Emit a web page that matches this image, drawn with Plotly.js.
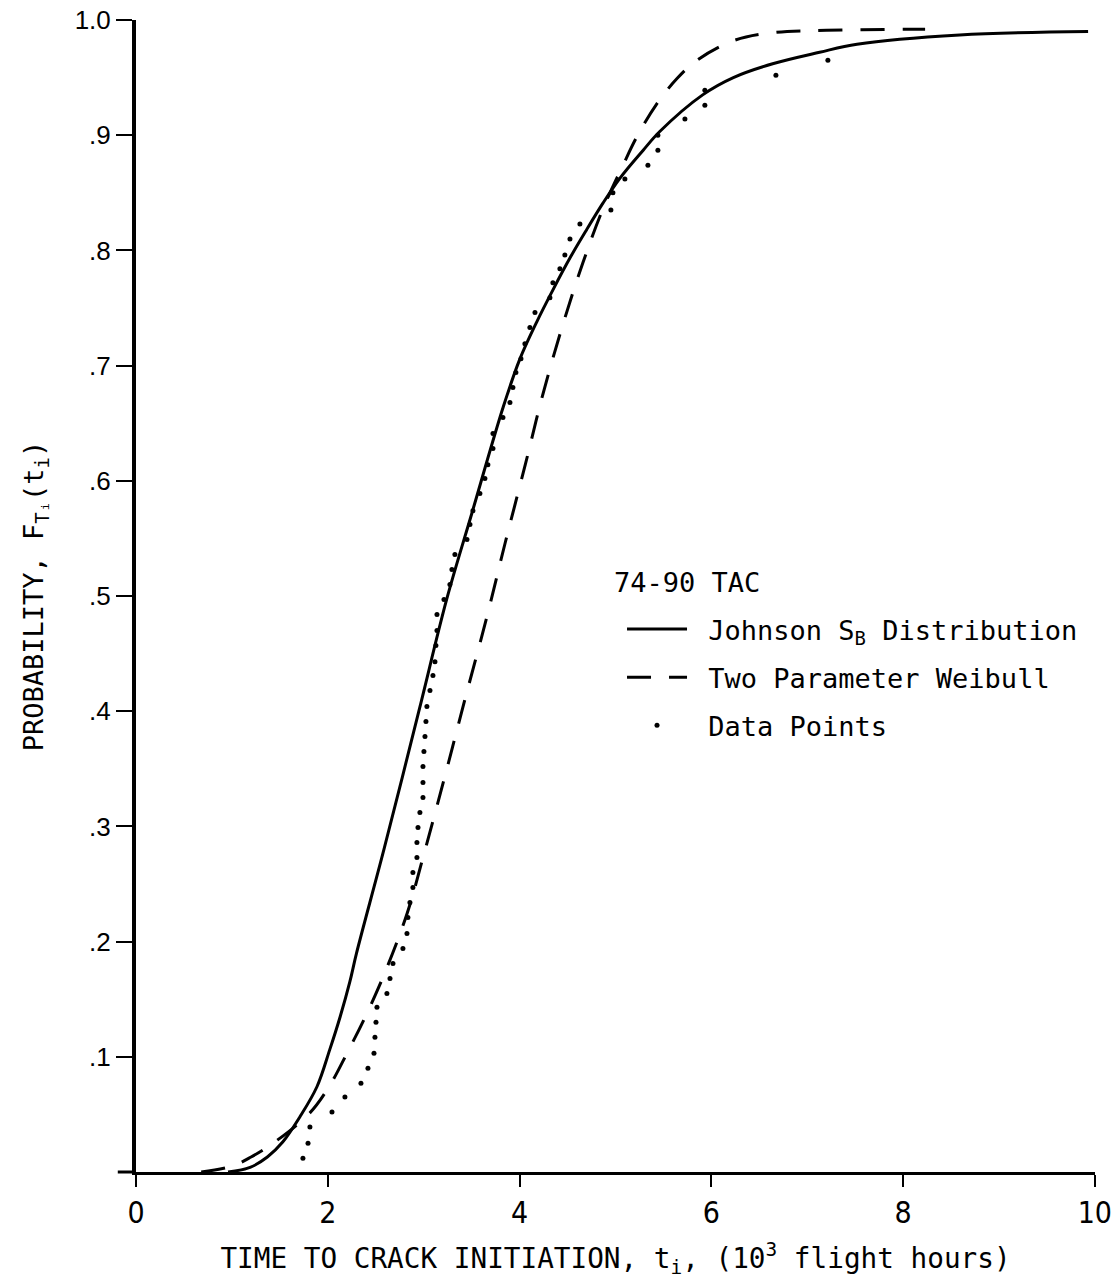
<!DOCTYPE html>
<html>
<head>
<meta charset="utf-8">
<script src="https://cdn.plot.ly/plotly-3.0.1.min.js"></script>
<style>html,body{margin:0;padding:0;background:#fff;}#chart{width:1112px;height:1288px;}</style>
</head>
<body>
<div id="chart"></div>
<script>
// Johnson S_B distribution curve (x in 10^3 flight hours, y probability)
const johnsonX = [0.96,1.19,1.37,1.53,1.71,1.887,2.02,2.13,2.23,2.30,2.586,2.95,3.24,3.5,3.83,4.0,4.18,4.35,4.53,4.70,4.87,5.05,5.29,5.46,5.91,6.23,6.64,7.13,7.52,8.59,9.93];
const johnsonY = [0,0.004,0.013,0.026,0.048,0.074,0.106,0.135,0.165,0.19,0.28,0.4,0.497,0.571,0.664,0.705,0.738,0.766,0.794,0.818,0.841,0.863,0.887,0.903,0.935,0.95,0.962,0.972,0.979,0.987,0.99];

// Two parameter Weibull curve
const weibullX = [0.68,1.0,1.2,1.43,1.81,2.02,2.2,2.41,2.62,2.83,3.0,3.22,3.43,3.66,3.85,4.06,4.24,4.45,4.66,4.87,5.08,5.22,5.43,5.64,5.85,6.23,6.64,7.2,8.04,8.23];
const weibullY = [0,0.005,0.013,0.025,0.051,0.075,0.103,0.138,0.178,0.225,0.275,0.343,0.41,0.482,0.546,0.614,0.674,0.735,0.789,0.836,0.874,0.898,0.927,0.949,0.965,0.982,0.989,0.991,0.992,0.992];

// Data points
const dataX = [1.741,1.794,1.814,2.044,2.179,2.346,2.419,2.482,2.492,2.503,2.513,2.617,2.649,2.680,2.784,2.826,2.836,2.857,2.888,2.888,2.930,2.930,2.941,2.961,2.993,2.993,2.993,3.003,3.014,3.024,3.034,3.066,3.097,3.118,3.128,3.139,3.139,3.212,3.274,3.295,3.326,3.452,3.483,3.514,3.587,3.639,3.670,3.723,3.723,3.827,3.900,3.931,3.962,4.015,4.056,4.108,4.161,4.317,4.348,4.421,4.473,4.526,4.630,4.953,4.974,5.099,5.339,5.443,5.443,5.725,5.933,5.933,6.674,7.216];
const dataY = [0.012,0.025,0.039,0.052,0.065,0.077,0.090,0.103,0.117,0.130,0.143,0.155,0.168,0.181,0.194,0.207,0.221,0.234,0.247,0.260,0.273,0.286,0.299,0.312,0.325,0.338,0.352,0.365,0.378,0.391,0.404,0.418,0.431,0.443,0.457,0.470,0.484,0.497,0.510,0.523,0.536,0.549,0.562,0.574,0.589,0.602,0.614,0.628,0.641,0.655,0.668,0.681,0.694,0.706,0.719,0.733,0.746,0.759,0.772,0.784,0.796,0.810,0.823,0.835,0.850,0.862,0.874,0.887,0.900,0.914,0.926,0.939,0.952,0.965];

// Tick labels
const xTickVals = [0,2,4,6,8,10];
const xTickText = ['0','2','4','6','8','10'];
const yTickVals = [0.1,0.2,0.3,0.4,0.5,0.6,0.7,0.8,0.9,1.0];
const yTickText = ['.1','.2','.3','.4','.5','.6','.7','.8','.9','1.0'];

const legendTitle = '74-90 TAC';
const NB = '\u00a0';

const MONO = "'DejaVu Sans Mono', 'Liberation Mono', monospace";
const NARROW = "'Liberation Sans Narrow', 'DejaVu Sans Condensed', 'Roboto Condensed', sans-serif";

const traces = [
  {x: johnsonX, y: johnsonY, mode: 'lines', name: NB + 'Johnson S<sub>B</sub> Distribution',
   line: {color: '#000', width: 3, shape: 'spline', smoothing: 1}, legendgroup: 'a'},
  {x: weibullX, y: weibullY, mode: 'lines', name: NB + 'Two Parameter Weibull',
   line: {color: '#000', width: 3, dash: '24px,18px', shape: 'spline', smoothing: 1}, legendgroup: 'b'},
  {x: dataX, y: dataY, mode: 'markers', name: NB + 'Data Points',
   marker: {color: '#000', size: 5}, legendgroup: 'c'}
];

const layout = {
  width: 1112, height: 1288,
  margin: {l: 136, r: 17, t: 20, b: 116},
  paper_bgcolor: '#fff', plot_bgcolor: '#fff',
  showlegend: true,
  legend: {
    x: 0.5068, y: 0.4922, xanchor: 'left', yanchor: 'top',
    bgcolor: 'rgba(0,0,0,0)', borderwidth: 0,
    font: {family: MONO, size: 27, color: '#000'},
    tracegroupgap: 10, itemwidth: 60
  },
  annotations: [
    {text: legendTitle, xref: 'paper', yref: 'paper', x: 0.4964, y: 0.512,
     xanchor: 'left', yanchor: 'middle', showarrow: false,
     font: {family: MONO, size: 27, color: '#000'}}
  ],
  xaxis: {
    range: [0, 10.002], tickvals: xTickVals, ticktext: xTickText,
    showgrid: false, zeroline: false, showline: true, linecolor: '#000', linewidth: 3,
    ticks: 'outside', ticklen: 12, tickwidth: 2, tickcolor: '#000',
    tickfont: {family: NARROW, size: 30, color: '#000'},
    title: {text: 'TIME TO CRACK INITIATION, t<sub>i</sub>, (10<sup>3</sup> flight hours)',
            font: {family: MONO, size: 27.7, color: '#000'}, standoff: 20},
    automargin: false
  },
  yaxis: {
    range: [0, 1], tickvals: yTickVals, ticktext: yTickText,
    showgrid: false, zeroline: false, showline: true, linecolor: '#000', linewidth: 4,
    ticks: 'outside', ticklen: 16, tickwidth: 2, tickcolor: '#000',
    tickfont: {family: "'Liberation Sans', Arial, sans-serif", size: 26, color: '#000'},
    title: {text: 'PROBABILITY, F<sub>Tᵢ</sub>(t<sub>i</sub>)',
            font: {family: MONO, size: 27, color: '#000'}, standoff: 24},
    automargin: false
  },
  shapes: [
    {type: 'line', xref: 'paper', yref: 'paper', x0: -0.019, x1: 0, y0: 0, y1: 0,
     line: {color: '#000', width: 3}}
  ]
};

Plotly.newPlot('chart', traces, layout, {displayModeBar: false, staticPlot: true});
</script>
</body>
</html>
